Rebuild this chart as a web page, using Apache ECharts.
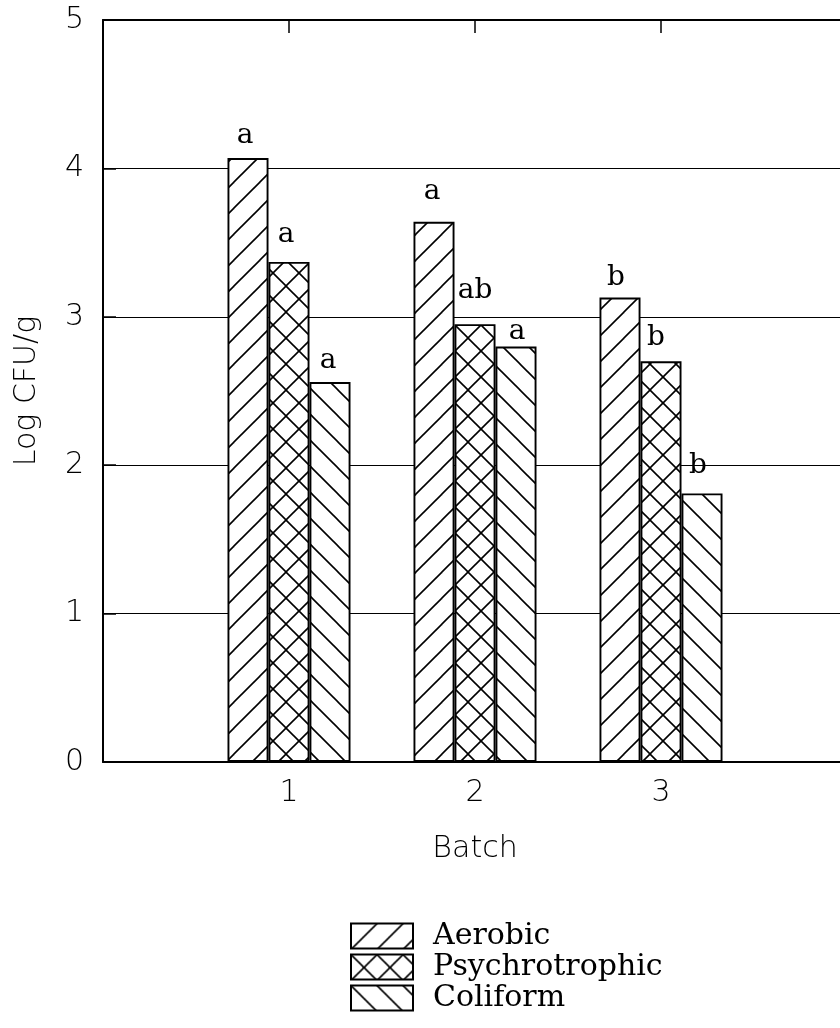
<!DOCTYPE html>
<html>
<head>
<meta charset="utf-8">
<script src="https://cdn.jsdelivr.net/npm/echarts@6/dist/echarts.min.js"></script>
<style>
  html, body { margin: 0; padding: 0; background: #fff; }
  #chart { width: 840px; height: 1028px; }
</style>
</head>
<body>
<div id="chart"></div>
<script>
// Batches and mean counts (log CFU/g) for each organism group
const batches = [1, 2, 3];
const aerobic = [4.07, 3.64, 3.13];
const psychrotrophic = [3.37, 2.95, 2.70];
const coliform = [2.56, 2.80, 1.81];

// Significance letters shown above each bar
const aerobicSig = ['a', 'a', 'b'];
const psychrotrophicSig = ['a', 'ab', 'b'];
const coliformSig = ['a', 'a', 'b'];

const yTicks = [0, 1, 2, 3, 4, 5];

// Fine placement of the letters over the bars: [dx, dy] in pixels
const aerobicLabelShift = [[-3, -3], [-2, -11], [-4, -1]];
const psychrotrophicLabelShift = [[-3, -8], [0, -15], [-5, -5]];
const coliformLabelShift = [[-2, -2], [1, 4], [-4, -9]];

// Hatch tiles drawn on small canvases and used as repeating fills
function hatchTile(kind) {
  const s = 26;
  const c = document.createElement('canvas');
  c.width = s; c.height = s;
  const g = c.getContext('2d');
  g.fillStyle = '#fff';
  g.fillRect(0, 0, s, s);
  g.strokeStyle = '#000';
  g.lineWidth = 1.6;
  const rising = () => {
    for (let k = -1; k <= 1; k++) {
      g.beginPath();
      g.moveTo(k * s - 2, s + 2);
      g.lineTo(k * s + s + 2, -2);
      g.stroke();
    }
  };
  const falling = () => {
    for (let k = -1; k <= 1; k++) {
      g.beginPath();
      g.moveTo(k * s - 2, -2);
      g.lineTo(k * s + s + 2, s + 2);
      g.stroke();
    }
  };
  if (kind === 'rising' || kind === 'cross') rising();
  if (kind === 'falling' || kind === 'cross') falling();
  return { image: c, repeat: 'repeat' };
}

const axisFont = { fontFamily: 'DejaVu Sans', fontWeight: 200, color: '#000' };
const serifFont = 'DejaVu Serif';

function barSeries(name, values, letters, shifts, fill) {
  return {
    name: name,
    type: 'bar',
    barWidth: 41,
    barGap: '0%',
    itemStyle: { color: fill, borderColor: '#000', borderWidth: 1.9 },
    emphasis: { disabled: true },
    label: {
      show: true,
      position: 'top',
      distance: 5,
      fontFamily: serifFont,
      fontSize: 28,
      color: '#000'
    },
    data: values.map((v, i) => ({
      value: [batches[i], v],
      label: { formatter: letters[i], offset: shifts[i] }
    }))
  };
}

const chart = echarts.init(document.getElementById('chart'), null, { renderer: 'canvas' });

chart.setOption({
  animation: false,
  backgroundColor: '#fff',
  grid: {
    left: 103, top: 20, width: 744, height: 742,
    containLabel: false,
    outerBoundsMode: 'none'
  },
  legend: {
    orient: 'vertical',
    left: 345,
    top: 916,
    itemWidth: 62,
    itemHeight: 25,
    itemGap: 1,
    icon: 'rect',
    selectedMode: false,
    textStyle: {
      fontFamily: serifFont,
      fontSize: 30,
      color: '#000',
      padding: [0, 0, 0, 15]
    },
    data: ['Aerobic', 'Psychrotrophic', 'Coliform']
  },
  xAxis: [
    {
      type: 'value',
      min: 0,
      max: 4,
      interval: 1,
      position: 'bottom',
      name: 'Batch',
      nameLocation: 'middle',
      nameGap: 72,
      nameTextStyle: Object.assign({ fontSize: 30 }, axisFont),
      axisLine: { show: true, lineStyle: { color: '#000', width: 2 } },
      axisTick: { show: true, inside: true, length: 13, lineStyle: { color: '#000', width: 1.5 } },
      axisLabel: Object.assign({
        fontSize: 30,
        margin: 16,
        formatter: v => (batches.indexOf(v) >= 0 ? String(v) : '')
      }, axisFont),
      splitLine: { show: false }
    },
    {
      type: 'value',
      min: 0,
      max: 4,
      interval: 1,
      position: 'top',
      axisLine: { show: true, lineStyle: { color: '#000', width: 2 } },
      axisTick: { show: true, inside: true, length: 13, lineStyle: { color: '#000', width: 1.5 } },
      axisLabel: { show: false },
      splitLine: { show: false }
    }
  ],
  yAxis: {
    type: 'value',
    min: yTicks[0],
    max: yTicks[yTicks.length - 1],
    interval: 1,
    name: 'Log CFU/g',
    nameLocation: 'middle',
    nameGap: 61,
    nameTextStyle: Object.assign({ fontSize: 30 }, axisFont),
    axisLine: { show: true, lineStyle: { color: '#000', width: 2 } },
    axisTick: { show: true, inside: true, length: 13, lineStyle: { color: '#000', width: 1.5 } },
    axisLabel: Object.assign({ fontSize: 30, margin: 19 }, axisFont),
    splitLine: { show: true, lineStyle: { color: '#000', width: 1.2 } }
  },
  series: [
    barSeries('Aerobic', aerobic, aerobicSig, aerobicLabelShift, hatchTile('rising')),
    barSeries('Psychrotrophic', psychrotrophic, psychrotrophicSig, psychrotrophicLabelShift, hatchTile('cross')),
    barSeries('Coliform', coliform, coliformSig, coliformLabelShift, hatchTile('falling'))
  ]
});
</script>
</body>
</html>
